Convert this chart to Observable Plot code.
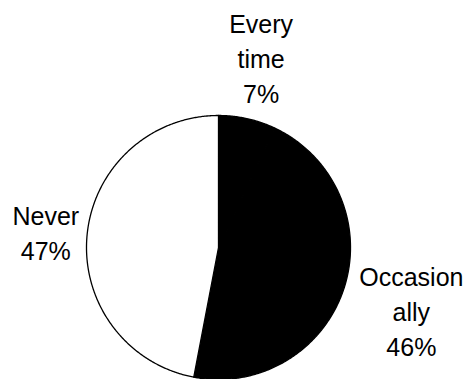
<!DOCTYPE html>
<html>
<head>
<meta charset="utf-8">
<script src="https://cdn.jsdelivr.net/npm/d3@7"></script>
<script src="https://cdn.jsdelivr.net/npm/@observablehq/plot@0.6"></script>
<style>
  html, body { margin: 0; padding: 0; background: #fff; }
  #chart svg { display: block; }
</style>
</head>
<body>
<div id="chart"></div>
<script>
// Survey answers and their shares (percent)
const categories = ["Every time", "Occasionally", "Never"];
const shares = [7, 46, 47];
// Label text as printed next to each slice
const labelNames = ["Every\ntime", "Occasion\nally", "Never"];

const W = 465, H = 379;
const R = 132;            // pie radius in pixels
const cx = 218, cy = 247; // pie centre in pixels
const fontSize = 25, lineHeight = 1.4;
const fontFamily = "'Liberation Sans', Arial, sans-serif";

const rows = categories.map((c, i) => ({category: c, share: shares[i], name: labelNames[i]}));
const arcs = d3.pie().sort(null).value(d => d.share)(rows);

// Each slice as a closed polygon in units of the radius (y points up)
const slicePoints = arcs.flatMap(a => {
  const n = Math.max(2, Math.ceil((a.endAngle - a.startAngle) / (Math.PI / 360)));
  const pts = [{category: a.data.category, x: 0, y: 0}];
  for (let k = 0; k <= n; ++k) {
    const t = a.startAngle + (a.endAngle - a.startAngle) * k / n;
    pts.push({category: a.data.category, x: Math.sin(t), y: Math.cos(t)});
  }
  return pts;
});

// Labels sit just outside the rim along each slice's mid-angle
const ctx = document.createElement("canvas").getContext("2d");
ctx.font = `${fontSize}px ${fontFamily}`;
const gap = 5;
const labels = arcs.map(a => {
  const text = `${a.data.name}\n${a.data.share}%`;
  const lines = text.split("\n");
  const w = d3.max(lines, l => ctx.measureText(l).width);
  const h = lines.length * fontSize * lineHeight;
  const mid = (a.startAngle + a.endAngle) / 2;
  const s = Math.sin(mid), c = Math.cos(mid);
  const dist = (R + gap + Math.abs(s) * w / 2 + Math.abs(c) * h / 2) / R;
  return {text, x: s * dist, y: c * dist};
});

const chart = Plot.plot({
  width: W,
  height: H,
  margin: 0,
  style: {background: "#fff", color: "#000", fontFamily},
  x: {domain: [-cx / R, (W - cx) / R], range: [0, W], axis: null},
  y: {domain: [-(H - cy) / R, cy / R], range: [H, 0], axis: null},
  color: {domain: categories, range: ["#000", "#000", "#fff"]},
  marks: [
    Plot.line(slicePoints, {
      x: "x", y: "y", z: "category",
      fill: "category", stroke: "#000", strokeWidth: 1.3,
      curve: "linear-closed"
    }),
    Plot.text(labels, {
      x: "x", y: "y", text: "text",
      fontSize, lineHeight,
      textAnchor: "middle", lineAnchor: "middle",
      fill: "#000"
    })
  ]
});
document.getElementById("chart").append(chart);
</script>
</body>
</html>
